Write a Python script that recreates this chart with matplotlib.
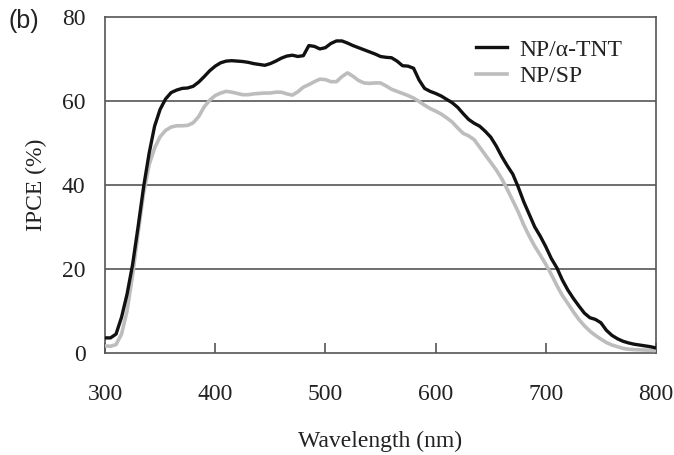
import matplotlib
matplotlib.use("Agg")
import matplotlib.pyplot as plt

wl_tnt = [300, 305, 310, 315, 320, 325, 330, 335, 340, 345, 350, 355, 360, 365, 370, 375, 380, 385, 390, 395,
          400, 405, 410, 415, 420, 425, 430, 435, 440, 445, 450, 455, 460, 465, 470, 475, 480, 485, 490, 495,
          500, 505, 510, 515, 520, 525, 530, 535, 540, 545, 550, 555, 560, 565, 570, 575, 580, 585, 590, 595,
          600, 605, 610, 615, 620, 625, 630, 635, 640, 645, 650, 655, 660, 665, 670, 675, 680, 685, 690, 695,
          700, 705, 710, 715, 720, 725, 730, 735, 740, 745, 750, 755, 760, 765, 770, 775, 780, 785, 790, 795, 800]
ipce_tnt = [3.6, 3.6, 4.5, 8.5, 14, 21, 30, 39.5, 47.5, 54, 58, 60.5, 62, 62.6, 63, 63.1, 63.5, 64.5, 65.8, 67.2,
            68.3, 69.1, 69.5, 69.6, 69.5, 69.4, 69.2, 68.9, 68.7, 68.5, 68.9, 69.5, 70.2, 70.7, 70.9, 70.6, 70.8, 73.2, 73.0, 72.4,
            72.7, 73.7, 74.3, 74.3, 73.8, 73.2, 72.7, 72.2, 71.7, 71.2, 70.6, 70.4, 70.3, 69.5, 68.4, 68.3, 67.8, 65.0, 63.0, 62.3,
            61.8, 61.2, 60.4, 59.6, 58.5, 57.0, 55.6, 54.7, 54.0, 52.8, 51.4, 49.3, 46.8, 44.6, 42.6, 39.5, 36.0, 33.0, 30.0, 27.8,
            25.3, 22.5, 20.3, 17.4, 15.0, 13.0, 11.2, 9.5, 8.4, 8.0, 7.2, 5.4, 4.2, 3.4, 2.8, 2.4, 2.1, 1.9, 1.7, 1.5, 1.2]

wl_sp = [300, 305, 310, 315, 320, 325, 330, 335, 340, 345, 350, 355, 360, 365, 370, 375, 380, 385, 390, 395,
         400, 405, 410, 415, 420, 425, 430, 435, 440, 445, 450, 455, 460, 465, 470, 475, 480, 485, 490, 495,
         500, 505, 510, 515, 520, 525, 530, 535, 540, 545, 550, 555, 560, 565, 570, 575, 580, 585, 590, 595,
         600, 605, 610, 615, 620, 625, 630, 635, 640, 645, 650, 655, 660, 665, 670, 675, 680, 685, 690, 695,
         700, 705, 710, 715, 720, 725, 730, 735, 740, 745, 750, 755, 760, 765, 770, 775, 780, 790, 800]
ipce_sp = [1.7, 1.6, 2.0, 4.5, 10, 18.5, 28.5, 38, 44.8, 48.8, 51.5, 53, 53.8, 54.1, 54.1, 54.2, 54.8, 56.3, 58.6, 60.2,
           61.3, 61.9, 62.3, 62.1, 61.8, 61.5, 61.5, 61.7, 61.8, 61.9, 61.9, 62.1, 62.1, 61.7, 61.4, 62.2, 63.3, 63.9, 64.6, 65.2,
           65.1, 64.6, 64.6, 65.8, 66.7, 65.9, 64.9, 64.3, 64.2, 64.3, 64.3, 63.6, 62.8, 62.3, 61.8, 61.3, 60.7, 59.9, 59.0, 58.2,
           57.6, 56.9, 56.0, 55.0, 53.6, 52.3, 51.7, 50.8, 49.0, 47.2, 45.4, 43.6, 41.5, 39.0, 36.3, 33.6, 30.5, 27.8, 25.4, 23.3,
           21.1, 18.7, 16.1, 13.7, 11.8, 9.8, 8.0, 6.5, 5.2, 4.2, 3.3, 2.5, 1.9, 1.5, 1.1, 0.9, 0.8, 0.7, 0.6]

labels = ["NP/\u03b1-TNT", "NP/SP"]
x_ticks = [300, 400, 500, 600, 700, 800]
y_ticks = [0, 20, 40, 60, 80]

serif = "Liberation Serif"
fs = 17
fig = plt.figure(figsize=(6.74, 4.55), dpi=100)
ax = fig.add_axes([105 / 674, 1 - 353 / 455, (656 - 105) / 674, (353 - 17) / 455])

ax.set_xlim(300, 800)
ax.set_ylim(0, 80)
for yv in y_ticks[1:-1]:
    ax.axhline(yv, color="#555555", lw=1.2, zorder=1)

ax.plot(wl_sp, ipce_sp, color="#bdbdbd", lw=2.6, label=labels[1], zorder=3)
ax.plot(wl_tnt, ipce_tnt, color="#111111", lw=2.4, label=labels[0], zorder=4)

h, l = ax.get_legend_handles_labels()
leg = fig.legend([h[1], h[0]], [l[1], l[0]], loc="center left", frameon=False,
                 prop={"family": serif, "size": fs}, handlelength=1.3, handletextpad=0.55,
                 bbox_to_anchor=(476 / 674, 1 - 63 / 455), borderaxespad=0, borderpad=0,
                 labelspacing=0.2)
for t in leg.get_texts():
    t.set_color("#222222")

for s in ax.spines.values():
    s.set_color("#555555")
    s.set_linewidth(1.2)

ax.set_xticks(x_ticks)
ax.set_yticks(y_ticks)
ax.tick_params(axis="x", direction="in", length=7, width=1.2, color="#555555", pad=22)
ax.tick_params(axis="y", length=0, pad=14)
for t in ax.get_xticklabels() + ax.get_yticklabels():
    t.set_fontfamily(serif)
    t.set_fontsize(fs)
    t.set_color("#222222")

ax.set_xlabel("Wavelength (nm)", family=serif, fontsize=fs, color="#222222", labelpad=19)
ax.set_ylabel("IPCE (%)", family=serif, fontsize=fs, color="#222222", labelpad=11)

fig.text(9 / 674, 1 - 21 / 455, "(b)", family="Liberation Sans", fontsize=18, va="center", ha="left", color="#222222")

fig.savefig("out.png", dpi=100)
